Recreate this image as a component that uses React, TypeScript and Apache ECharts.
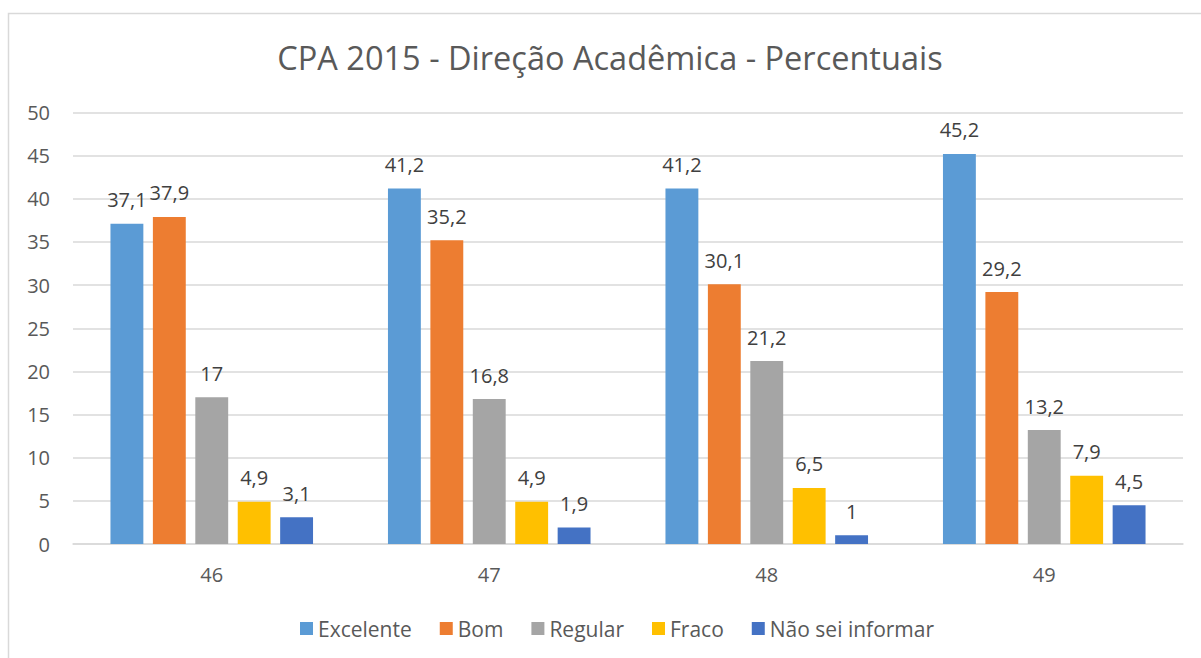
import React, { useEffect, useRef } from "react";
import * as echarts from "echarts";

const categories = ["46", "47", "48", "49"];
const seriesNames = ["Excelente", "Bom", "Regular", "Fraco", "Não sei informar"];
const excelente = [37.1, 41.2, 41.2, 45.2];
const bom = [37.9, 35.2, 30.1, 29.2];
const regular = [17, 16.8, 21.2, 13.2];
const fraco = [4.9, 4.9, 6.5, 7.9];
const naoSei = [3.1, 1.9, 1, 4.5];
const colors = ["#5B9BD5", "#ED7D31", "#A5A5A5", "#FFC000", "#4472C4"];

const FONT = "'Open Sans', 'Noto Sans', sans-serif";

export default function App() {
  const ref = useRef<HTMLDivElement>(null);
  useEffect(() => {
    if (!ref.current) return;
    const chart = echarts.init(ref.current, undefined, { renderer: "svg" });
    const values = [excelente, bom, regular, fraco, naoSei];
    chart.setOption({
      animation: false,
      backgroundColor: "#ffffff",
      textStyle: { fontFamily: FONT },
      title: {
        text: "CPA 2015 - Direção Acadêmica - Percentuais",
        left: 605,
        textAlign: "center",
        top: 36,
        textStyle: { fontFamily: FONT, fontSize: 32.5, fontWeight: "normal", color: "#595959" },
      },
      graphic: [
        {
          type: "rect",
          shape: { x: 8.5, y: 13.5, width: 1230, height: 700 },
          style: { fill: "none", stroke: "#d9d9d9", lineWidth: 1.5 },
          silent: true,
          z: -1,
        },
      ],
      legend: {
        data: seriesNames,
        left: 295,
        top: 613,
        itemWidth: 13,
        itemHeight: 13,
        itemGap: 28,
        icon: "rect",
        textStyle: { fontFamily: FONT, fontSize: 21, color: "#595959" },
      },
      grid: { left: 73, right: 18, top: 112.5, bottom: 114, containLabel: false },
      xAxis: {
        type: "category",
        data: categories,
        axisLine: { show: true, lineStyle: { color: "#d9d9d9", width: 1.5 } },
        axisTick: { show: false },
        axisLabel: { fontFamily: FONT, fontSize: 20, color: "#595959", margin: 20 },
      },
      yAxis: {
        type: "value",
        min: 0,
        max: 50,
        interval: 5,
        axisLine: { show: false },
        axisTick: { show: false },
        splitLine: { lineStyle: { color: "#d9d9d9", width: 1.5 } },
        axisLabel: { fontFamily: FONT, fontSize: 20, color: "#595959", margin: 23 },
      },
      series: seriesNames.map((name, i) => ({
        name,
        type: "bar",
        data: values[i],
        barGap: "29%",
        barCategoryGap: "27%",
        itemStyle: { color: colors[i] },
        label: {
          show: true,
          position: "top",
          distance: 14,
          fontFamily: FONT,
          fontSize: 20,
          color: "#404040",
          formatter: (p: any) => String(p.value).replace(".", ","),
        },
      })),
    });
    return () => chart.dispose();
  }, []);
  return (
    <div
      ref={ref}
      style={{ position: "absolute", left: 0, top: 0, width: 1201, height: 658 }}
    />
  );
}
